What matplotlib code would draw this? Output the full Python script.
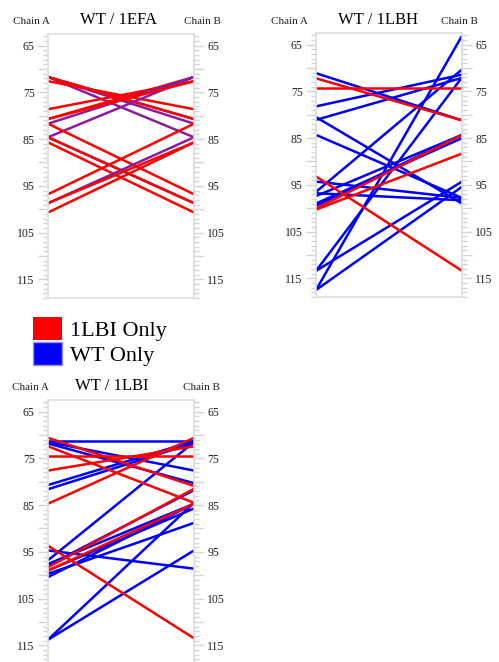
import matplotlib
matplotlib.use("Agg")
from matplotlib import pyplot as plt
from matplotlib.patches import Patch
from matplotlib.ticker import FixedLocator, MultipleLocator, FuncFormatter

# each contact: residue on chain A, residue on chain B, which structure has it
efa_a = [71.7, 71.7, 71.7, 72.6, 71.7, 78.6, 80.7, 81.7, 84.6, 80.7,
         81.7, 84.6, 85.7, 84.6, 96.8, 98.7, 100.7, 98.7]
efa_b = [80.7, 81.7, 84.6, 78.6, 80.7, 72.6, 71.7, 71.7, 71.7, 72.6,
         96.8, 98.7, 100.7, 98.7, 81.7, 84.6, 85.7, 85.7]
efa_kind = ["both", "both", "both", "mut", "mut", "mut", "mut", "both", "both", "mut",
            "mut", "both", "mut", "mut", "mut", "both", "mut", "mut"]

lbh_a = [71.1, 78.2, 81.1, 80.5, 84.3, 94.3, 96.5, 96.8, 97.4, 99.0, 99.5,
         113.4, 113.4, 117.5, 117.5, 74.2, 72.2, 93.2, 100.1, 100.3]
lbh_b = [81.2, 71.4, 72.1, 99.0, 97.8, 97.8, 70.3, 98.3, 84.3, 85.0, 84.3,
         72.0, 94.3, 63.1, 95.4, 74.2, 81.2, 113.4, 84.3, 88.3]
lbh_kind = ["wt"] * 15 + ["mut"] * 5

lbi_a = [71.3, 71.5, 71.8, 80.7, 81.6, 94.7, 96.8, 97.6, 97.9, 99.0, 99.7, 100.4,
         113.8, 113.8, 70.6, 72.4, 74.5, 77.6, 84.7, 93.7, 98.3, 99.0]
lbi_b = [71.3, 77.6, 80.3, 71.3, 71.7, 98.6, 71.5, 84.7, 81.8, 85.7, 88.8, 84.7,
         94.7, 84.5, 80.9, 84.5, 74.5, 72.4, 70.6, 113.5, 81.5, 84.7]
lbi_kind = ["wt"] * 14 + ["mut"] * 8

colors = {"mut": "#ff0000", "wt": "#0000ff", "both": "#8c1c9c"}
serif = ["Liberation Serif", "DejaVu Serif"]


def style_axis(ax, side):
    ax.set_ylim(119, 62.5)
    ax.yaxis.set_major_locator(FixedLocator(range(65, 120, 5)))
    ax.yaxis.set_minor_locator(MultipleLocator(1))
    ax.yaxis.set_major_formatter(FuncFormatter(lambda v, p: str(int(v)) if int(v) % 10 == 5 else ""))
    ax.tick_params(axis="y", which="major", length=7, width=1, color="#d4d4d4",
                   labelsize=8.5, labelcolor="#222222", pad=2.5)
    ax.tick_params(axis="y", which="minor", length=3.5, width=1, color="#d4d4d4")
    ax.yaxis.set_ticks_position(side)
    for lab in ax.get_yticklabels():
        lab.set_family(serif)


def panel(rect, a, b, kind):
    ax = fig.add_axes(rect)
    for ya, yb, k in zip(a, b, kind):
        ax.plot([0, 1], [ya, yb], color=colors[k], lw=1.8, solid_capstyle="butt")
    ax.set_xlim(0, 1)
    ax.set_xticks([])
    for s in ax.spines.values():
        s.set_color("#dddddd")
        s.set_linewidth(1.2)
    style_axis(ax, "left")
    ax2 = ax.twinx()
    style_axis(ax2, "right")
    for s in ax2.spines.values():
        s.set_visible(False)
    return ax


W, H = 499, 662
fig = plt.figure(figsize=(W / 100, H / 100), dpi=100)

panel([48 / W, 1 - 298 / H, 146 / W, 264 / H], efa_a, efa_b, efa_kind)
panel([316 / W, 1 - 297 / H, 146 / W, 264 / H], lbh_a, lbh_b, lbh_kind)
panel([48 / W, 1 - 664 / H, 146 / W, 264 / H], lbi_a, lbi_b, lbi_kind)

heads = [(119, 20, "WT / 1EFA", 31, 202), (378, 20, "WT / 1LBH", 289, 459),
         (112, 386, "WT / 1LBI", 30, 201)]
for tx, ty, t, ca, cb in heads:
    fig.text(tx / W, 1 - ty / H, t, ha="center", va="center", fontsize=12, family=serif)
    fig.text(ca / W, 1 - (ty + 2) / H, "Chain A", ha="center", va="center", fontsize=8,
             family=serif, color="#222222")
    fig.text(cb / W, 1 - (ty + 2) / H, "Chain B", ha="center", va="center", fontsize=8,
             family=serif, color="#222222")

handles = [Patch(facecolor=colors["mut"], label="1LBI Only"),
           Patch(facecolor=colors["wt"], edgecolor="#9090ff", label="WT Only")]
fig.legend(handles=handles, loc="upper left", bbox_to_anchor=(33 / W, 1 - 317 / H),
           frameon=False, borderpad=0, borderaxespad=0, handlelength=1.3, handleheight=1.2,
           labelspacing=0.05, handletextpad=0.35, prop={"family": serif, "size": 16})

fig.savefig("out.png", dpi=100)
